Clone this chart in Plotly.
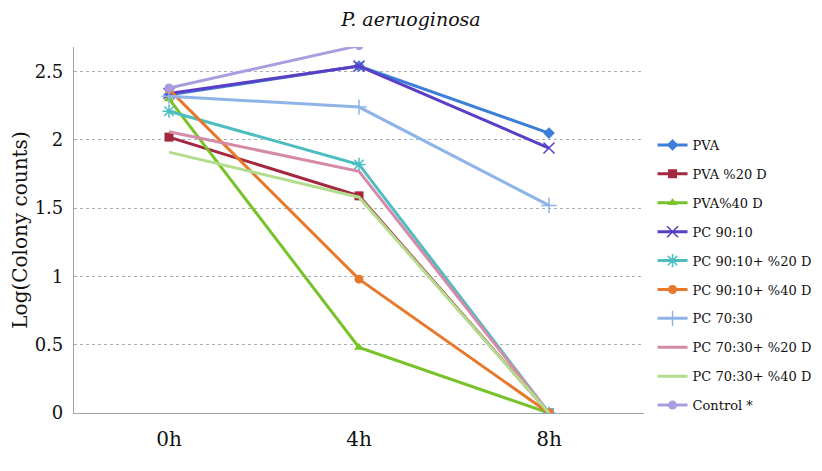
import plotly.graph_objects as go

categories = ["0h", "4h", "8h"]

series_names = [
    "PVA", "PVA %20 D", "PVA%40 D", "PC 90:10", "PC 90:10+ %20 D",
    "PC 90:10+ %40 D", "PC 70:30", "PC 70:30+ %20 D", "PC 70:30+ %40 D", "Control *",
]
pva = [2.33, 2.54, 2.05]
pva_20d = [2.02, 1.59, 0.0]
pva_40d = [2.30, 0.48, 0.0]
pc_90_10 = [2.34, 2.54, 1.94]
pc_90_10_20d = [2.21, 1.82, 0.0]
pc_90_10_40d = [2.37, 0.98, 0.0]
pc_70_30 = [2.32, 2.24, 1.52]
pc_70_30_20d = [2.06, 1.77, 0.0]
pc_70_30_40d = [1.91, 1.58, 0.0]
control = [2.38, 2.69, None]

values = [pva, pva_20d, pva_40d, pc_90_10, pc_90_10_20d,
          pc_90_10_40d, pc_70_30, pc_70_30_20d, pc_70_30_40d, control]

colors = ["#3d7fd8", "#a3283f", "#78c22a", "#5a3fc6", "#4dbdbf",
          "#e8782c", "#8fb4e8", "#d58aa8", "#b2dd8c", "#a99ddf"]
symbols = ["diamond", "square", "triangle-up", "x-thin", "asterisk",
           "circle", "cross-thin", "circle", "circle", "circle"]
modes = ["lines+markers"] * 7 + ["lines", "lines", "lines+markers"]

FONT = "DejaVu Serif, Liberation Serif, serif"

fig = go.Figure()
for i, (name, vals) in enumerate(zip(series_names, values)):
    thin = symbols[i].endswith("-thin") or symbols[i] == "asterisk"
    fig.add_trace(go.Scatter(
        x=categories, y=vals, name=name, mode=modes[i],
        legendgroup=f"g{i}",
        line=dict(color=colors[i], width=3),
        marker=dict(symbol=symbols[i], size=9 if not thin else 11,
                    color=colors[i],
                    line=dict(color=colors[i], width=1.5 if thin else 0)),
        connectgaps=False,
    ))

# the page body has an 8px margin on each side, so the figure is sized
# to fit inside the 822x471 window without scrollbars
fig.update_layout(
    width=806, height=455,
    margin=dict(l=66, r=170, t=39, b=50, autoexpand=False),
    paper_bgcolor="white", plot_bgcolor="white",
    font=dict(family=FONT, color="#111111"),
    title=dict(text="<i>P. aeruoginosa</i>", x=0.5, xanchor="center",
               y=0.976, yanchor="middle", font=dict(size=19, family=FONT)),
    showlegend=True,
    legend=dict(x=1.015, xanchor="left", y=0.377, yanchor="middle",
                font=dict(size=13, family=FONT), tracegroupgap=9,
                traceorder="grouped", bgcolor="rgba(0,0,0,0)",
                itemwidth=30),
    xaxis=dict(type="category", range=[-0.5, 2.5], showgrid=False,
               showline=True, linecolor="#9aa8ae", linewidth=1.2,
               ticks="", ticklabelstandoff=8, tickfont=dict(size=20, family=FONT),
               zeroline=False, automargin=False),
    yaxis=dict(range=[0, 2.68], tickvals=[0, 0.5, 1, 1.5, 2, 2.5],
               ticktext=["0", "0.5", "1", "1.5", "2", "2.5"],
               showgrid=True, gridcolor="#a8b0b4", griddash="dot", gridwidth=1,
               showline=True, linecolor="#9aa8ae", linewidth=1.2,
               ticks="", ticklabelstandoff=6, automargin=False,
               tickfont=dict(size=18, family=FONT), zeroline=False,
               title=dict(text="Log(Colony counts)", standoff=8,
                          font=dict(size=20, family=FONT))),
)

fig.write_html("out.html")
